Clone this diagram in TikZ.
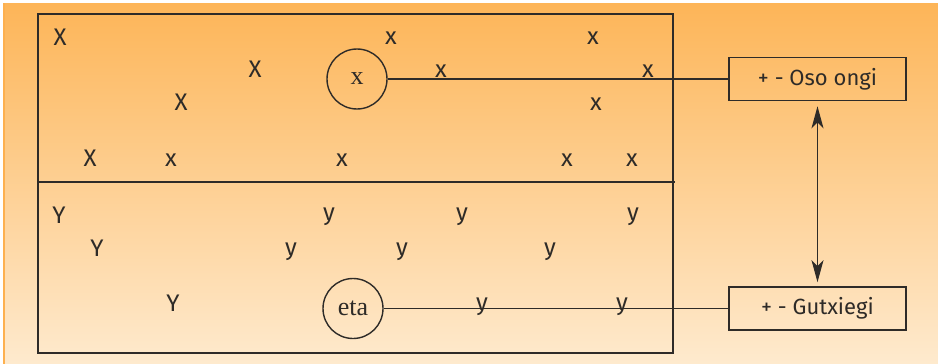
\documentclass[tikz,border=0pt]{standalone}
\usepackage{fontspec}
\setmainfont{Liberation Serif}
\newfontfamily\lettersf{Fira Sans}
\usetikzlibrary{arrows.meta}
\definecolor{bgtop}{HTML}{FDB558}
\definecolor{bgbot}{HTML}{FEEACE}
\definecolor{ink}{HTML}{2E2B28}
\tikzset{
  letter/.style={font=\lettersf\fontsize{24}{24}\selectfont, text=ink, inner sep=0pt, anchor=center},
  circ/.style={circle, draw=ink, line width=1.4pt, minimum size=60pt, inner sep=0pt, font=\fontsize{26}{26}\selectfont, text=ink},
  labelbox/.style={draw=ink, line width=1.6pt, minimum width=177pt, minimum height=43pt, inner sep=0pt, font=\lettersf\fontsize{22}{22}\selectfont, text=ink},
  conn/.style={draw=ink, line width=1.3pt},
  frame/.style={draw=ink, line width=1.8pt}
}
\begin{document}
\begin{tikzpicture}[x=1pt,y=-1pt]
\useasboundingbox (0,0) rectangle (938,364);
\fill[white] (0,0) rectangle (938,364);
\shade[top color=bgtop, bottom color=bgbot] (3,3) rectangle (938,364);
\fill[bgtop!90!orange] (3,3) rectangle (4.5,364);
% main frame
\draw[frame] (38,14) rectangle (673,353);
\coordinate (divL) at (37,182);
\coordinate (divR) at (675,182);
\draw[frame] (divL) -- (divR);
% upper letters
\node[letter] (X1) at (60,37) {X};
\node[letter] (X2) at (255,69) {X};
\node[letter] (X3) at (181,102) {X};
\node[letter] (X4) at (90,158) {X};
\node[letter] (x1) at (391,38) {x};
\node[letter] (x2) at (441,71) {x};
\node[letter] (x3) at (593,38) {x};
\node[letter] (x4) at (648,71) {x};
\node[letter] (x5) at (596,104) {x};
\node[letter] (x6) at (171,160) {x};
\node[letter] (x7) at (342,160) {x};
\node[letter] (x8) at (567,160) {x};
\node[letter] (x9) at (632,160) {x};
% lower letters
\node[letter] (Y1) at (59,215) {Y};
\node[letter] (Y2) at (97,248) {Y};
\node[letter] (Y3) at (173,303) {Y};
\node[letter] (y1) at (329,217) {y};
\node[letter] (y2) at (462,217) {y};
\node[letter] (y3) at (633,217) {y};
\node[letter] (y4) at (291,252) {y};
\node[letter] (y5) at (402,252) {y};
\node[letter] (y6) at (550,252) {y};
\node[letter] (y7) at (482,307) {y};
\node[letter] (y8) at (622,307) {y};
% circles
\node[circ] (cx) at (357,79) {x};
\node[circ] (ceta) at (353,308.5) {eta};
% boxes
\node[labelbox] (oso) at (817.5,79) {+ - Oso ongi};
\node[labelbox] (gut) at (817.5,308.5) {+ - Gutxiegi};
% connectors
\draw[conn] (cx.east) -- (oso.west);
\draw[conn] (ceta.east) -- (gut.west);
\draw[conn, {Stealth[length=22pt,width=12pt,inset=6pt]}-{Stealth[length=22pt,width=12pt,inset=6pt]}]
  ([yshift=-5pt]oso.south) -- ([yshift=4pt]gut.north);
\end{tikzpicture}
\end{document}
